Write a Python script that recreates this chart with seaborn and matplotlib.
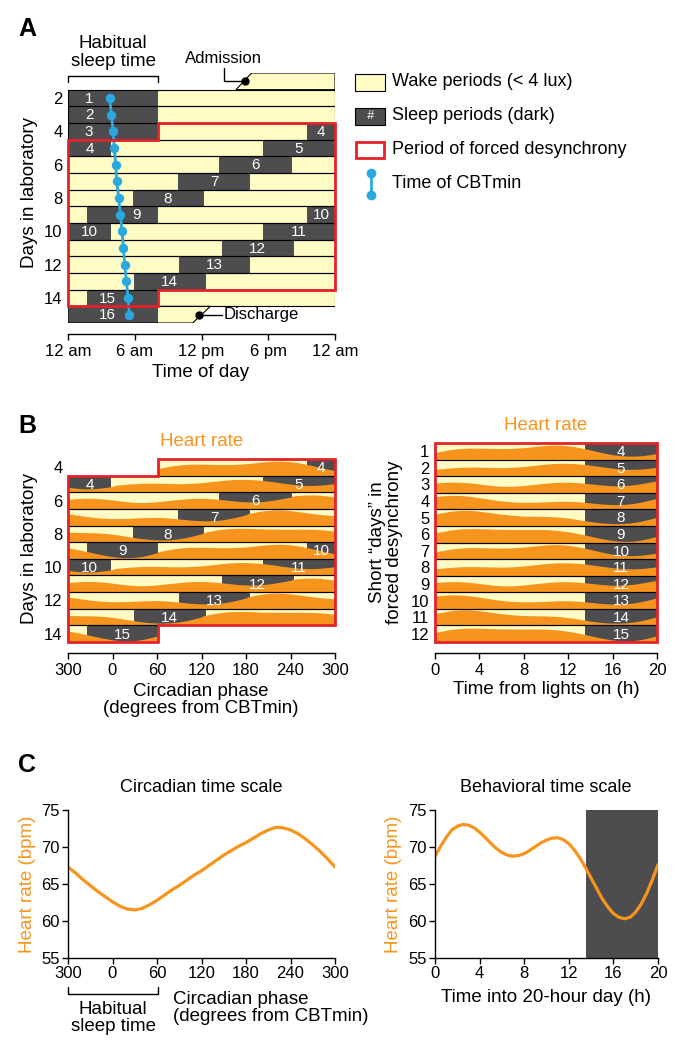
import numpy as np
import matplotlib
matplotlib.use("Agg")
import matplotlib.pyplot as plt
import matplotlib.patches as mpatches
import matplotlib.transforms as mtransforms
import seaborn as sns

# -----------------------------------------------------------------------------
# Figure geometry / style
# -----------------------------------------------------------------------------
W, H = 683, 1054
DPI = 100

WAKE_COLOR  = "#FFFBC4"
SLEEP_COLOR = "#4D4D4F"
FD_COLOR    = "#E3222A"
CBT_COLOR   = "#29A9E0"
HR_COLOR    = "#F7941D"

TICK_SIZE  = 12
LABEL_SIZE = 13.5
NUM_SIZE   = 11

# -----------------------------------------------------------------------------
# Data: protocol (hours counted from midnight of lab day 1)
# -----------------------------------------------------------------------------
sleep_ids   = [1, 2, 3, 4, 5, 6, 7, 8, 9, 10, 11, 12, 13, 14, 15, 16]
sleep_start = [24.0, 48.0, 72.0, 93.5, 113.5, 133.6, 153.9, 173.8,
               193.7, 213.5, 233.5, 253.8, 274.0, 293.9, 313.7, 336.0]
sleep_end   = [32.1, 56.1, 80.1, 99.9, 120.0, 140.1, 160.4, 180.2,
               200.1, 219.9, 240.0, 260.3, 280.4, 300.4, 320.1, 344.1]

first_day, last_day = 1, 15
admission_slant = [15.1, 16.5]     # clock hour at row bottom / row top
admission_hour  = 15.9
discharge_slant = [11.2, 12.8]
discharge_hour  = 11.8
habitual_sleep  = [0.0, 8.1]

fd_start      = 80.1               # lights on of first short day
fd_end        = 320.1
fd_day_length = 20.0
fd_lights_off = 13.5
short_days    = [1, 2, 3, 4, 5, 6, 7, 8, 9, 10, 11, 12]
short_sleeps  = [4, 5, 6, 7, 8, 9, 10, 11, 12, 13, 14, 15]

cbt_days  = [2, 3, 4, 5, 6, 7, 8, 9, 10, 11, 12, 13, 14, 15]
cbt_hours = [3.75, 3.9, 4.05, 4.17, 4.29, 4.38, 4.56, 4.71,
             4.86, 4.98, 5.1, 5.25, 5.4, 5.52]

clock_ticks  = [0, 6, 12, 18, 24]
clock_labels = ["12 am", "6 am", "12 pm", "6 pm", "12 am"]

# -----------------------------------------------------------------------------
# Data: heart rate components (panel C)
# -----------------------------------------------------------------------------
circ_phase = [-60, -50, -40, -30, -20, -10, 0, 10, 20, 30, 40, 50, 60, 70,
              80, 90, 100, 110, 120, 130, 140, 150, 160, 170, 180, 190, 200,
              210, 220, 230, 240, 250, 260, 270, 280, 290, 300]
circ_hr    = [67.3, 66.5, 65.6, 64.8, 64.0, 63.3, 62.6, 62.0, 61.6, 61.5,
              61.7, 62.2, 62.8, 63.5, 64.2, 64.8, 65.5, 66.2, 66.8, 67.5,
              68.2, 68.9, 69.5, 70.1, 70.6, 71.2, 71.8, 72.3, 72.65, 72.6,
              72.3, 71.8, 71.1, 70.3, 69.4, 68.4, 67.3]
phase_tick_pos    = [-60, 0, 60, 120, 180, 240, 300]
phase_tick_labels = ["300", "0", "60", "120", "180", "240", "300"]
cbt_clock = 4.0                    # clock hour drawn as 0 degrees

behav_time = [0, 0.5, 1, 1.5, 2, 2.5, 3, 3.5, 4, 4.5, 5, 5.5, 6, 6.5, 7,
              7.5, 8, 8.5, 9, 9.5, 10, 10.5, 11, 11.5, 12, 12.5, 13, 13.5,
              14, 14.5, 15, 15.5, 16, 16.5, 17, 17.5, 18, 18.5, 19, 19.5, 20]
behav_hr   = [68.7, 70.1, 71.3, 72.3, 72.8, 73.05, 72.95, 72.6, 72.0, 71.3,
              70.5, 69.8, 69.25, 68.9, 68.75, 68.85, 69.1, 69.55, 70.05,
              70.55, 70.95, 71.2, 71.25, 71.0, 70.45, 69.6, 68.5, 67.2, 65.8,
              64.4, 63.0, 61.9, 61.0, 60.5, 60.3, 60.5, 61.2, 62.3, 63.8,
              65.6, 67.6]
hr_ticks = [55, 60, 65, 70, 75]


# -----------------------------------------------------------------------------
# Helpers
# -----------------------------------------------------------------------------
def px_axes(fig, x0, y0, x1, y1):
    return fig.add_axes([x0 / W, 1 - y1 / H, (x1 - x0) / W, (y1 - y0) / H])


def ftext(fig, x, y, s, **kw):
    return fig.text(x / W, 1 - y / H, s, **kw)


def sleep_pieces():
    """Split each sleep episode into (id, day, start_clock, end_clock)."""
    out = []
    for n, s, e in zip(sleep_ids, sleep_start, sleep_end):
        day = int(s // 24) + 1
        while s < e - 1e-6:
            stop = min(e, day * 24)
            out.append((n, day, s - (day - 1) * 24, stop - (day - 1) * 24))
            s = stop
            day += 1
    return out


def phase_of(clock):
    p = (np.asarray(clock) - cbt_clock) * 15.0
    return (p + 60) % 360 - 60


HR_LO = min(circ_hr) + min(behav_hr)
HR_HI = max(circ_hr) + max(behav_hr)


def hr_fraction(t_abs):
    """Row fill height from circadian + behavioural heart-rate components."""
    t_abs = np.asarray(t_abs)
    circ = np.interp(phase_of(t_abs % 24), circ_phase, circ_hr)
    behav = np.interp((t_abs - fd_start) % fd_day_length, behav_time, behav_hr)
    return 0.06 + 0.88 * (circ + behav - HR_LO) / (HR_HI - HR_LO)


def row_box(ax, y, x0, x1, fc, ec="none", lw=0.8, z=1):
    ax.add_patch(mpatches.Rectangle((x0, y - 0.5), x1 - x0, 1.0, fc=fc,
                                    ec=ec, lw=lw, zorder=z))


def fd_outline(ax, first, last):
    x0 = habitual_sleep[1]
    pts = [(x0, first - 0.5), (24, first - 0.5), (24, last - 0.5),
           (x0, last - 0.5), (x0, last + 0.5), (0, last + 0.5),
           (0, first + 0.5), (x0, first + 0.5)]
    ax.add_patch(mpatches.Polygon(pts, closed=True, fc="none", ec=FD_COLOR,
                                  lw=2.0, joinstyle="miter", zorder=6,
                                  clip_on=False))


def style_raster(ax):
    sns.despine(ax=ax, left=True, offset={"bottom": 8})
    ax.tick_params(axis="y", length=0, pad=4, labelsize=TICK_SIZE)
    ax.tick_params(axis="x", length=4, width=1, labelsize=TICK_SIZE, pad=3)


# -----------------------------------------------------------------------------
# Style
# -----------------------------------------------------------------------------
sns.set_style("ticks", {"axes.edgecolor": "black", "xtick.color": "black",
                        "ytick.color": "black", "text.color": "black",
                        "axes.labelcolor": "black"})
plt.rcParams["font.family"] = ["Liberation Sans", "DejaVu Sans"]
plt.rcParams["axes.linewidth"] = 1.0

fig = plt.figure(figsize=(W / DPI, H / DPI), dpi=DPI)
pieces = sleep_pieces()

# -----------------------------------------------------------------------------
# Panel A: protocol raster
# -----------------------------------------------------------------------------
axA = px_axes(fig, 68, 73, 335, 323)
for day in range(first_day, last_day + 1):
    if day == first_day:
        poly = [(admission_slant[0], day + 0.5), (24, day + 0.5),
                (24, day - 0.5), (admission_slant[1], day - 0.5)]
    elif day == last_day:
        poly = [(0, day + 0.5), (discharge_slant[0], day + 0.5),
                (discharge_slant[1], day - 0.5), (0, day - 0.5)]
    else:
        poly = [(0, day + 0.5), (24, day + 0.5), (24, day - 0.5), (0, day - 0.5)]
    axA.add_patch(mpatches.Polygon(poly, closed=True, fc=WAKE_COLOR, ec="none", zorder=1))
    axA.add_patch(mpatches.Polygon(poly, closed=True, fc="none", ec="black", lw=0.8, zorder=3))

# numbers nudged away from the CBTmin line where they would collide
label_hour = {1: 1.9, 2: 1.9, 3: 1.9, 9: 6.15, 15: 3.5, 16: 3.5}
for n, day, x0, x1 in pieces:
    row_box(axA, day, x0, x1, SLEEP_COLOR, z=2)
    xt = label_hour.get(n, (x0 + x1) / 2) if x1 - x0 > 5 else (x0 + x1) / 2
    axA.text(xt, day + 0.03, str(n), color="white", ha="center",
             va="center", fontsize=NUM_SIZE, zorder=4)

sns.lineplot(x=cbt_hours, y=cbt_days, ax=axA, sort=False, estimator=None,
             color=CBT_COLOR, lw=2, marker="o", markersize=6,
             markeredgecolor=CBT_COLOR, zorder=5)
fd_outline(axA, 4, 14)

# admission / discharge markers
axA.plot([admission_hour, 14.0, 14.0], [1.0, 1.0, 0.2], color="black", lw=1, clip_on=False, zorder=5)
axA.plot([admission_hour], [1.0], "o", color="black", ms=5, zorder=5)
axA.text(14.0, -0.4, "Admission", ha="center", va="center", fontsize=12)
axA.plot([discharge_hour, 13.85], [15.0, 15.0], color="black", lw=1, zorder=5)
axA.plot([discharge_hour], [15.0], "o", color="black", ms=5, zorder=5, clip_on=False)
axA.text(13.95, 15.0, "Discharge", ha="left", va="center", fontsize=12)

# habitual sleep bracket
axA.plot([habitual_sleep[0], habitual_sleep[0], habitual_sleep[1], habitual_sleep[1]],
         [1.04, 0.68, 0.68, 1.04], color="black", lw=1, clip_on=False)
axA.text(np.mean(habitual_sleep), -0.72, "Habitual\nsleep time", ha="center",
         va="center", fontsize=LABEL_SIZE, linespacing=1.05)

axA.set_xlim(0, 24)
axA.set_ylim(last_day + 0.5, first_day - 0.5)
axA.set_xticks(clock_ticks)
axA.set_xticklabels(clock_labels)
axA.set_yticks(range(2, 15, 2))
axA.set_xlabel("")
axA.set_ylabel("")
style_raster(axA)
ftext(fig, 201, 372, "Time of day", ha="center", va="center", fontsize=LABEL_SIZE)
ftext(fig, 30, 192, "Days in laboratory", ha="center", va="center",
      rotation=90, fontsize=LABEL_SIZE)

# legend
axL = fig.add_axes([0, 0, 1, 1], zorder=10)
axL.set_xlim(0, W)
axL.set_ylim(H, 0)
axL.axis("off")
leg_y = [82, 116, 150, 184]
axL.add_patch(mpatches.Rectangle((355, leg_y[0] - 8.5), 30, 17, fc=WAKE_COLOR, ec="black", lw=0.8))
axL.add_patch(mpatches.Rectangle((355, leg_y[1] - 8.5), 30, 17, fc=SLEEP_COLOR, ec="black", lw=0.8))
axL.text(370, leg_y[1], "#", color="white", ha="center", va="center", fontsize=9, style="italic")
axL.add_patch(mpatches.Rectangle((356, leg_y[2] - 8), 28, 16, fc="white", ec=FD_COLOR, lw=2))
axL.plot([371, 371], [leg_y[3] - 11, leg_y[3] + 11], color=CBT_COLOR, lw=2,
         marker="o", ms=6, mec=CBT_COLOR)
for y, s in zip(leg_y, ["Wake periods (< 4 lux)", "Sleep periods (dark)",
                        "Period of forced desynchrony", "Time of CBTmin"]):
    axL.text(392, y, s, ha="left", va="center", fontsize=13)

# panel letters
for x, y, s in [(27, 29, "A"), (27, 426, "B"), (27, 765, "C")]:
    axL.text(x, y, s, ha="center", va="center", fontsize=18, fontweight="heavy")

# -----------------------------------------------------------------------------
# Panel B (left): heart rate raster against circadian phase
# -----------------------------------------------------------------------------
axB1 = px_axes(fig, 68, 459, 335, 642)
for day in range(4, 15):
    day0 = (day - 1) * 24
    lo, hi = max(0.0, fd_start - day0), min(24.0, fd_end - day0)
    row_box(axB1, day, lo, hi, WAKE_COLOR, z=1)
    h = np.linspace(lo, hi, 300)
    axB1.fill_between(h, day + 0.5, day + 0.5 - hr_fraction(day0 + h),
                      color=HR_COLOR, lw=0, zorder=3)
    row_box(axB1, day, lo, hi, "none", ec="black", z=4)
for n, day, x0, x1 in pieces:
    if n in short_sleeps:
        row_box(axB1, day, x0, x1, SLEEP_COLOR, z=2)
        axB1.text((x0 + x1) / 2, day + 0.05, str(n), color="white", ha="center",
                  va="center", fontsize=NUM_SIZE, zorder=5)
fd_outline(axB1, 4, 14)
axB1.set_xlim(0, 24)
axB1.set_ylim(14.5, 3.5)
axB1.set_xticks([cbt_clock + p / 15.0 for p in phase_tick_pos])
axB1.set_xticklabels(phase_tick_labels)
axB1.set_yticks(range(4, 15, 2))
style_raster(axB1)
ftext(fig, 202, 441, "Heart rate", ha="center", va="center", fontsize=LABEL_SIZE, color=HR_COLOR)
ftext(fig, 201, 700, "Circadian phase\n(degrees from CBTmin)", ha="center",
      va="center", fontsize=LABEL_SIZE, linespacing=1.05)
ftext(fig, 30, 548, "Days in laboratory", ha="center", va="center",
      rotation=90, fontsize=LABEL_SIZE)

# -----------------------------------------------------------------------------
# Panel B (right): heart rate raster against time from lights on
# -----------------------------------------------------------------------------
axB2 = px_axes(fig, 435, 443, 657, 642)
for k, n in zip(short_days, short_sleeps):
    t0 = fd_start + fd_day_length * (k - 1)
    row_box(axB2, k, 0, fd_lights_off, WAKE_COLOR, z=1)
    row_box(axB2, k, fd_lights_off, fd_day_length, SLEEP_COLOR, z=2)
    s = np.linspace(0, fd_day_length - 1e-3, 300)
    axB2.fill_between(s, k + 0.5, k + 0.5 - hr_fraction(t0 + s),
                      color=HR_COLOR, lw=0, zorder=3)
    row_box(axB2, k, 0, fd_day_length, "none", ec="black", z=4)
    axB2.text((fd_lights_off + fd_day_length) / 2, k + 0.05, str(n), color="white",
              ha="center", va="center", fontsize=NUM_SIZE, zorder=5)
axB2.add_patch(mpatches.Rectangle((0, 0.5), fd_day_length, len(short_days), fc="none",
                                  ec=FD_COLOR, lw=2, zorder=6, clip_on=False))
axB2.set_xlim(0, fd_day_length)
axB2.set_ylim(len(short_days) + 0.5, 0.5)
axB2.set_xticks(range(0, 21, 4))
axB2.set_yticks(short_days)
style_raster(axB2)
ftext(fig, 546, 425, "Heart rate", ha="center", va="center", fontsize=LABEL_SIZE, color=HR_COLOR)
ftext(fig, 546, 690, "Time from lights on (h)", ha="center", va="center", fontsize=LABEL_SIZE)
ftext(fig, 386, 542, "Short \u201cdays\u201d in\nforced desynchrony", ha="center",
      va="center", rotation=90, fontsize=LABEL_SIZE, linespacing=1.0)

# -----------------------------------------------------------------------------
# Panel C: circadian and behavioural components
# -----------------------------------------------------------------------------
axC1 = px_axes(fig, 68, 810, 335, 958)
sns.lineplot(x=circ_phase, y=circ_hr, ax=axC1, color=HR_COLOR, lw=2.3)
axC1.set_xlim(-60, 300)
axC1.set_ylim(55, 75)
axC1.set_xticks(phase_tick_pos)
axC1.set_xticklabels(phase_tick_labels)
axC1.set_yticks(hr_ticks)

axC2 = px_axes(fig, 435, 810, 658, 958)
axC2.axvspan(fd_lights_off, fd_day_length, color=SLEEP_COLOR, lw=0)
sns.lineplot(x=behav_time, y=behav_hr, ax=axC2, color=HR_COLOR, lw=2.3)
axC2.set_xlim(0, fd_day_length)
axC2.set_ylim(55, 75)
axC2.set_xticks(range(0, 21, 4))
axC2.set_yticks(hr_ticks)

for ax in (axC1, axC2):
    sns.despine(ax=ax)
    ax.tick_params(length=4, width=1, labelsize=TICK_SIZE, pad=2)
    ax.set_xlabel("")
    ax.set_ylabel("")

ftext(fig, 201, 787, "Circadian time scale", ha="center", va="center", fontsize=13)
ftext(fig, 546, 787, "Behavioral time scale", ha="center", va="center", fontsize=13)
ftext(fig, 27, 884, "Heart rate (bpm)", ha="center", va="center", rotation=90,
      fontsize=LABEL_SIZE, color=HR_COLOR)
ftext(fig, 393, 884, "Heart rate (bpm)", ha="center", va="center", rotation=90,
      fontsize=LABEL_SIZE, color=HR_COLOR)
ftext(fig, 173, 1008, "Circadian phase\n(degrees from CBTmin)", ha="left",
      va="center", fontsize=LABEL_SIZE, linespacing=1.05, multialignment="left")
ftext(fig, 546, 998, "Time into 20-hour day (h)", ha="center", va="center", fontsize=LABEL_SIZE)

# habitual sleep bracket on the circadian axis
trans = mtransforms.blended_transform_factory(axC1.transData, axC1.transAxes)
b0, b1 = phase_of(habitual_sleep[0]), phase_of(habitual_sleep[1])
axC1.plot([b0, b0, b1, b1], [-0.196, -0.243, -0.243, -0.196], color="black",
          lw=1, transform=trans, clip_on=False)
axC1.text((b0 + b1) / 2, -0.405, "Habitual\nsleep time", ha="center", va="center",
          transform=trans, fontsize=LABEL_SIZE, linespacing=1.05)

fig.savefig("out.png", dpi=DPI)
